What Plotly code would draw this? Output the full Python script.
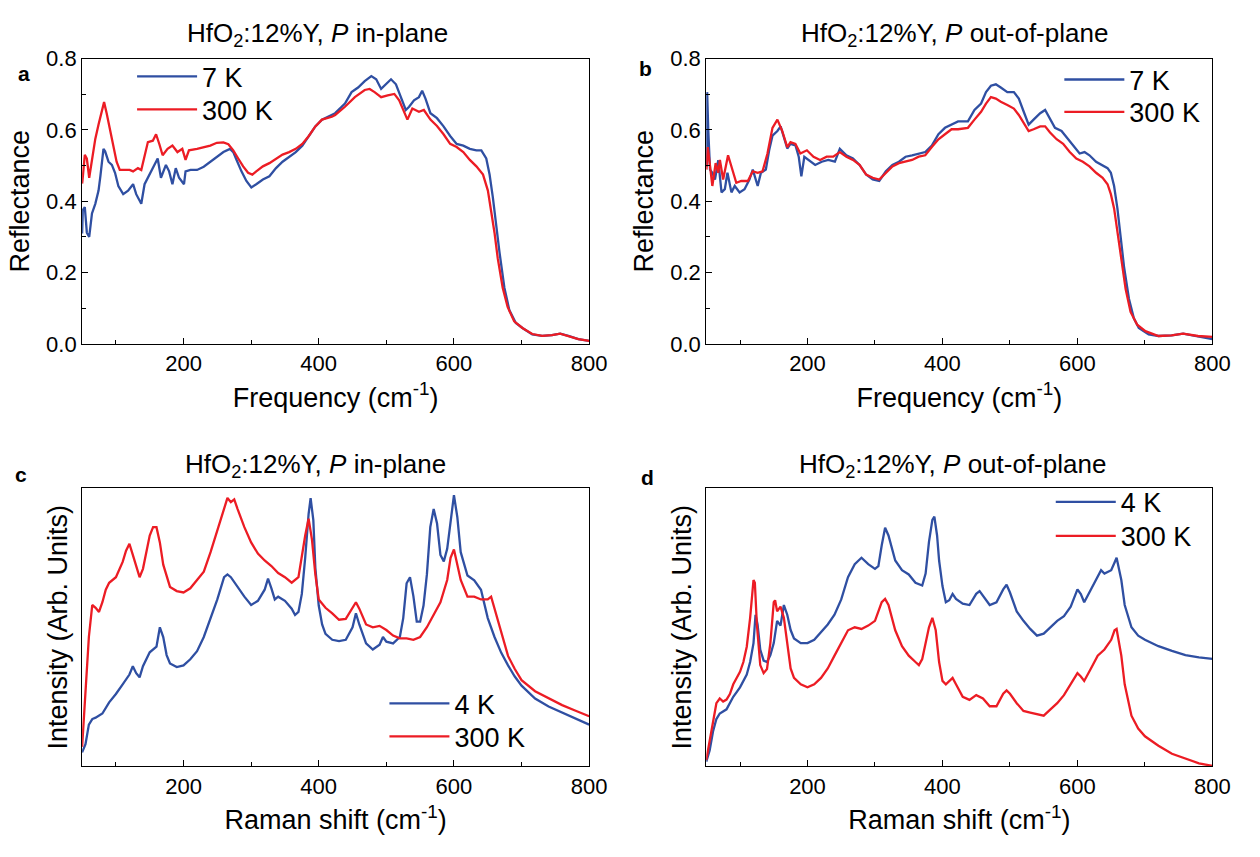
import plotly.graph_objects as go

# ---------------- Panel a : reflectance, P in-plane ----------------
a_x_7K = [50, 51, 54, 57, 60.5, 64.6, 69.5, 74.3, 77, 81.6, 84, 89, 94, 98.7, 103.6, 110.8, 118, 125.4, 130,
          137.5, 142.4, 149.7, 157, 161.8, 166.6, 174, 178.7, 183.6, 188.5, 193.4, 200.7, 203, 210.3, 220,
          229.9, 239.6, 249.3, 259, 268.7, 273.6, 278.5, 285.7, 293, 300.3, 307.6, 317.4, 327, 336.8, 346.5,
          356.2, 366, 375.7, 385.3, 395, 404.8, 419.4, 424.3, 438.8, 448.6, 458.2, 468, 477.8, 485, 492.3,
          499.6, 506.9, 514.2, 521.5, 528.8, 533.7, 540.9, 548.2, 553, 557.9, 565.2, 574.9, 584.6, 594.4,
          604, 613.8, 623.5, 633.2, 640.5, 647.8, 652.7, 657.5, 662.3, 667.3, 674.6, 681.9, 691.5, 701.3,
          715.8, 730.4, 745, 757.1, 769.3, 784, 800]
a_y_7K = [0.31, 0.375, 0.384, 0.312, 0.30, 0.366, 0.393, 0.43, 0.47, 0.547, 0.54, 0.511, 0.502, 0.48, 0.443,
          0.42, 0.43, 0.448, 0.42, 0.393, 0.448, 0.475, 0.50, 0.52, 0.466, 0.502, 0.484, 0.448, 0.493, 0.466,
          0.448, 0.484, 0.488, 0.488, 0.497, 0.511, 0.525, 0.538, 0.547, 0.538, 0.516, 0.484, 0.457, 0.439,
          0.448, 0.461, 0.47, 0.493, 0.511, 0.525, 0.538, 0.556, 0.583, 0.61, 0.629, 0.641, 0.647, 0.674,
          0.706, 0.719, 0.737, 0.751, 0.742, 0.715, 0.728, 0.742, 0.728, 0.692, 0.656, 0.665, 0.683, 0.692,
          0.71, 0.688, 0.647, 0.633, 0.61, 0.583, 0.561, 0.556, 0.547, 0.543, 0.543, 0.52, 0.475, 0.412,
          0.33, 0.258, 0.158, 0.095, 0.059, 0.045, 0.027, 0.023, 0.025, 0.029, 0.023, 0.014, 0.009]
a_x_300K = [50, 50.5, 54, 57, 60.5, 64.6, 69.5, 74.3, 79, 82.5, 86.3, 91.2, 96, 101, 105.7, 113, 120.3, 125.4,
            132.6, 137.5, 142.4, 147.3, 154.6, 159.4, 164.3, 169.1, 176.4, 183.6, 191, 198.2, 203, 208, 220,
            230, 239.6, 249.3, 259, 266.3, 273.6, 280.9, 288.2, 295.5, 301.8, 307.6, 317.4, 327, 336.8, 346.5,
            356.2, 366, 375.7, 385.3, 395, 404.8, 419.4, 424.3, 438.8, 453.4, 468, 475.3, 482.6, 492.3, 502,
            511.8, 519, 526.3, 531.2, 538.5, 548.2, 555.5, 565.2, 574.9, 584.6, 594.4, 604, 613.8, 623.5,
            633.2, 643, 650.2, 655.1, 660, 664.8, 672.1, 679.4, 689.1, 701.3, 715.8, 730.4, 745, 757.1, 769.3,
            784, 800]
a_y_300K = [0.45, 0.457, 0.53, 0.52, 0.466, 0.52, 0.575, 0.615, 0.647, 0.678, 0.647, 0.602, 0.556, 0.511,
            0.488, 0.488, 0.488, 0.484, 0.493, 0.488, 0.529, 0.566, 0.57, 0.588, 0.56, 0.529, 0.547, 0.556,
            0.538, 0.547, 0.516, 0.543, 0.547, 0.552, 0.556, 0.564, 0.565, 0.56, 0.543, 0.52, 0.498, 0.48,
            0.475, 0.484, 0.498, 0.507, 0.52, 0.531, 0.538, 0.547, 0.561, 0.583, 0.61, 0.629, 0.637, 0.642,
            0.665, 0.692, 0.712, 0.715, 0.706, 0.692, 0.697, 0.701, 0.683, 0.651, 0.629, 0.66, 0.651, 0.656,
            0.629, 0.611, 0.588, 0.561, 0.552, 0.538, 0.516, 0.498, 0.475, 0.43, 0.376, 0.312, 0.24, 0.158,
            0.104, 0.0635, 0.045, 0.028, 0.023, 0.025, 0.029, 0.023, 0.014, 0.009]

# ---------------- Panel b : reflectance, P out-of-plane ----------------
b_x_7K = [50.3, 51.3, 53, 55.6, 59, 62.9, 67.8, 72.6, 77.5, 81.4, 87.3, 92.2, 99.4, 106.7, 114, 118.9, 126.2,
          131, 138.3, 143.2, 148.1, 155.4, 160.2, 165.1, 170, 174.8, 182.1, 187, 190.9, 195.3, 201.6, 211.4,
          221.1, 230.8, 240.6, 247.9, 257.6, 267.4, 277.1, 286.9, 296.6, 306.3, 316.1, 325.8, 335.5, 345.3,
          355, 364.8, 374.5, 384.2, 394, 403.7, 413.5, 423.1, 437.7, 447.4, 457.2, 464.5, 471.8, 479.1,
          486.4, 496.1, 505.8, 513.1, 520.4, 527.7, 535, 544.8, 552.1, 559.4, 566.7, 576.4, 586.2, 595.9,
          603.2, 610.5, 617.8, 627.6, 637.3, 644.6, 649.5, 654.3, 659.2, 664.1, 669, 676.3, 683.6, 690.9,
          705.5, 720.1, 739.6, 756.6, 773.7, 800]
b_y_7K = [0.497, 0.706, 0.597, 0.489, 0.48, 0.461, 0.515, 0.425, 0.434, 0.48, 0.425, 0.443, 0.425, 0.434, 0.461,
          0.489, 0.443, 0.48, 0.489, 0.543, 0.584, 0.597, 0.61, 0.579, 0.548, 0.561, 0.557, 0.525, 0.47,
          0.525, 0.516, 0.502, 0.511, 0.516, 0.511, 0.547, 0.529, 0.52, 0.502, 0.475, 0.461, 0.457, 0.484,
          0.502, 0.511, 0.525, 0.529, 0.534, 0.538, 0.556, 0.588, 0.606, 0.615, 0.624, 0.624, 0.656, 0.674,
          0.706, 0.724, 0.728, 0.719, 0.706, 0.706, 0.688, 0.651, 0.615, 0.629, 0.647, 0.656, 0.629, 0.606,
          0.597, 0.574, 0.552, 0.534, 0.538, 0.529, 0.511, 0.502, 0.493, 0.48, 0.443, 0.38, 0.299, 0.217,
          0.127, 0.072, 0.045, 0.027, 0.0225, 0.024, 0.029, 0.0225, 0.0136]
b_x_300K = [50.3, 52.2, 55.1, 59, 63.9, 67.8, 70.2, 75, 82.3, 89.6, 94.5, 101.8, 111.6, 118.9, 126.2, 133.4,
            140.7, 148.1, 155.4, 162.6, 170, 174.8, 182.1, 189.4, 199.1, 208.9, 218.6, 228.4, 238.1, 247.9,
            257.6, 267.4, 277.1, 286.9, 296.6, 306.3, 316.1, 325.8, 335.5, 345.3, 355, 364.8, 374.5, 384.2,
            394, 403.7, 413.5, 423.1, 437.7, 447.4, 457.2, 464.5, 471.8, 479.1, 486.4, 496.1, 505.8, 513.1,
            520.4, 527.7, 535, 544.8, 552.1, 559.4, 569.1, 578.8, 588.6, 598.3, 608, 617.8, 627.6, 637.3,
            644.6, 649.5, 654.3, 659.2, 664.1, 671.4, 678.7, 688.5, 700.7, 720.1, 739.6, 756.6, 778.6, 800]
b_y_300K = [0.489, 0.552, 0.507, 0.443, 0.507, 0.48, 0.516, 0.461, 0.529, 0.48, 0.452, 0.457, 0.457, 0.484,
            0.48, 0.484, 0.534, 0.606, 0.629, 0.597, 0.552, 0.566, 0.561, 0.534, 0.543, 0.525, 0.516, 0.525,
            0.525, 0.538, 0.525, 0.516, 0.502, 0.475, 0.466, 0.461, 0.48, 0.498, 0.507, 0.511, 0.516, 0.525,
            0.529, 0.552, 0.574, 0.588, 0.602, 0.602, 0.606, 0.629, 0.651, 0.674, 0.692, 0.688, 0.679, 0.67,
            0.66, 0.642, 0.62, 0.597, 0.602, 0.61, 0.61, 0.593, 0.574, 0.561, 0.538, 0.52, 0.511, 0.498, 0.48,
            0.466, 0.448, 0.42, 0.38, 0.317, 0.244, 0.154, 0.09, 0.054, 0.036, 0.0225, 0.024, 0.029, 0.0225,
            0.02]

# ---------------- Panel c : Raman, P in-plane (arb. units) ----------------
c_x_4K = [50, 55, 60, 65, 70, 80, 90, 100, 110, 120, 125, 130, 135, 140, 150, 155, 160, 165, 170, 175, 180, 190,
          200, 210, 220, 230, 240, 250, 260, 265, 270, 280, 290, 300, 310, 320, 325, 330, 335, 340, 350, 360,
          365, 370, 375, 380, 385, 388, 392, 395, 400, 405, 410, 420, 430, 440, 450, 455, 460, 470, 480, 490,
          495, 500, 510, 520, 525, 530, 535, 540, 545, 550, 555, 560, 565, 570, 575, 580, 585, 590, 595, 600,
          605, 610, 620, 630, 640, 650, 660, 670, 680, 690, 700, 720, 740, 760, 780, 800]
c_y_4K = [0.05, 0.08, 0.15, 0.17, 0.175, 0.19, 0.23, 0.26, 0.295, 0.33, 0.36, 0.335, 0.32, 0.36, 0.41, 0.42,
          0.43, 0.50, 0.465, 0.40, 0.37, 0.357, 0.363, 0.385, 0.414, 0.465, 0.533, 0.60, 0.68, 0.69, 0.68,
          0.645, 0.61, 0.58, 0.595, 0.635, 0.675, 0.64, 0.60, 0.61, 0.595, 0.567, 0.544, 0.555, 0.62, 0.75,
          0.907, 0.964, 0.885, 0.714, 0.578, 0.51, 0.476, 0.455, 0.45, 0.455, 0.50, 0.55, 0.51, 0.442, 0.42,
          0.437, 0.465, 0.448, 0.442, 0.465, 0.533, 0.658, 0.68, 0.612, 0.52, 0.52, 0.578, 0.69, 0.86, 0.925,
          0.873, 0.76, 0.737, 0.782, 0.884, 0.975, 0.896, 0.77, 0.686, 0.669, 0.635, 0.533, 0.465, 0.408,
          0.363, 0.323, 0.29, 0.244, 0.215, 0.193, 0.172, 0.15]
c_x_300K = [50, 55, 60, 65, 70, 75, 80, 85, 90, 100, 110, 115, 120, 125, 130, 135, 140, 150, 155, 160, 165, 170,
            180, 190, 200, 210, 220, 230, 240, 250, 260, 265, 270, 275, 280, 290, 300, 310, 320, 330, 340, 350,
            360, 370, 380, 385, 390, 395, 400, 410, 420, 430, 440, 450, 455, 460, 470, 480, 490, 500, 510, 520,
            530, 540, 550, 560, 570, 580, 590, 595, 600, 605, 610, 620, 630, 640, 650, 655, 660, 670, 680, 690,
            700, 720, 740, 760, 780, 800]
c_y_300K = [0.07, 0.26, 0.465, 0.58, 0.57, 0.555, 0.59, 0.635, 0.66, 0.68, 0.735, 0.775, 0.80, 0.76, 0.72,
            0.68, 0.71, 0.83, 0.86, 0.86, 0.805, 0.725, 0.645, 0.63, 0.625, 0.64, 0.67, 0.70, 0.77, 0.85, 0.93,
            0.965, 0.95, 0.96, 0.925, 0.86, 0.805, 0.765, 0.74, 0.72, 0.695, 0.68, 0.66, 0.68, 0.83, 0.89,
            0.815, 0.69, 0.60, 0.57, 0.55, 0.527, 0.53, 0.57, 0.59, 0.567, 0.51, 0.50, 0.505, 0.49, 0.47, 0.46,
            0.46, 0.455, 0.465, 0.50, 0.545, 0.59, 0.67, 0.75, 0.78, 0.725, 0.67, 0.61, 0.61, 0.60, 0.60, 0.61,
            0.567, 0.476, 0.397, 0.35, 0.31, 0.27, 0.245, 0.22, 0.20, 0.18]

# ---------------- Panel d : Raman, P out-of-plane (arb. units) ----------------
d_x_4K = [50, 55, 60, 65, 70, 80, 90, 100, 110, 115, 120, 123, 126, 130, 135, 140, 145, 150, 155, 160, 165, 170,
          175, 180, 190, 200, 210, 220, 230, 240, 250, 260, 270, 280, 290, 300, 305, 310, 315, 320, 330, 340,
          350, 360, 370, 375, 380, 385, 388, 392, 395, 400, 405, 410, 415, 420, 430, 440, 450, 455, 460, 470,
          480, 490, 495, 500, 510, 520, 530, 540, 550, 560, 570, 580, 590, 600, 605, 610, 620, 630, 635, 640,
          650, 655, 658, 665, 670, 680, 690, 700, 720, 740, 760, 780, 800]
d_y_4K = [0.017, 0.057, 0.125, 0.17, 0.19, 0.205, 0.25, 0.284, 0.33, 0.375, 0.443, 0.545, 0.51, 0.42, 0.38,
          0.375, 0.40, 0.443, 0.523, 0.506, 0.58, 0.545, 0.49, 0.46, 0.443, 0.443, 0.455, 0.483, 0.51, 0.545,
          0.60, 0.68, 0.727, 0.75, 0.727, 0.71, 0.72, 0.795, 0.858, 0.83, 0.74, 0.705, 0.69, 0.66, 0.65, 0.693,
          0.807, 0.886, 0.898, 0.83, 0.74, 0.648, 0.59, 0.597, 0.62, 0.602, 0.585, 0.58, 0.62, 0.63, 0.614,
          0.58, 0.59, 0.636, 0.653, 0.625, 0.557, 0.523, 0.494, 0.47, 0.477, 0.50, 0.523, 0.54, 0.574, 0.636,
          0.619, 0.59, 0.636, 0.68, 0.705, 0.693, 0.705, 0.733, 0.75, 0.67, 0.58, 0.50, 0.47, 0.455, 0.432,
          0.415, 0.40, 0.392, 0.386]
d_x_300K = [50, 55, 60, 65, 70, 75, 80, 85, 90, 100, 105, 110, 115, 118, 120, 122, 125, 130, 135, 140, 145, 150,
            152, 155, 160, 165, 170, 175, 180, 190, 200, 210, 220, 230, 240, 250, 260, 270, 280, 290, 300, 310,
            315, 320, 330, 340, 350, 360, 365, 370, 380, 385, 390, 395, 400, 405, 410, 415, 420, 430, 440, 450,
            460, 470, 480, 490, 495, 500, 510, 520, 530, 540, 550, 560, 570, 580, 590, 600, 605, 610, 620, 630,
            640, 650, 655, 658, 665, 670, 680, 690, 700, 720, 740, 760, 780, 800]
d_y_300K = [0.023, 0.09, 0.17, 0.227, 0.244, 0.233, 0.24, 0.26, 0.295, 0.34, 0.375, 0.43, 0.534, 0.625, 0.67,
            0.66, 0.51, 0.364, 0.335, 0.35, 0.443, 0.59, 0.597, 0.557, 0.574, 0.534, 0.443, 0.352, 0.318, 0.295,
            0.284, 0.295, 0.318, 0.352, 0.398, 0.443, 0.489, 0.50, 0.494, 0.506, 0.523, 0.59, 0.602, 0.58,
            0.489, 0.432, 0.398, 0.375, 0.364, 0.386, 0.50, 0.534, 0.489, 0.375, 0.307, 0.295, 0.307, 0.318,
            0.295, 0.25, 0.239, 0.256, 0.244, 0.216, 0.216, 0.261, 0.273, 0.261, 0.227, 0.199, 0.193, 0.1875,
            0.182, 0.2045, 0.227, 0.256, 0.295, 0.335, 0.323, 0.307, 0.352, 0.398, 0.42, 0.455, 0.489, 0.494,
            0.398, 0.295, 0.182, 0.136, 0.108, 0.074, 0.045, 0.028, 0.011, 0.002]

x_tickvals = [200, 400, 600, 800]
x_minor = [100, 300, 500, 700]
y_tickvals_refl = [0.0, 0.2, 0.4, 0.6, 0.8]
y_ticktext_refl = ["0.0", "0.2", "0.4", "0.6", "0.8"]
y_minor_refl = [0.1, 0.3, 0.5, 0.7]

BLUE = "#2F4FA2"
RED = "#EC1C24"
FONT = "Liberation Sans, Arial, sans-serif"

W, H = 1260, 857


def px(v):
    return v / W


def py(v):
    return 1 - v / H


fig = go.Figure()

# (xaxis, yaxis, x_low, y_low, name_low, x_300, y_300, legend_low, legend_300)
panels = [
    ("x", "y", a_x_7K, a_y_7K, "7 K", a_x_300K, a_y_300K, "legend", "legend2"),
    ("x2", "y2", b_x_7K, b_y_7K, "7 K", b_x_300K, b_y_300K, "legend3", "legend4"),
    ("x3", "y3", c_x_4K, c_y_4K, "4 K", c_x_300K, c_y_300K, "legend5", "legend6"),
    ("x4", "y4", d_x_4K, d_y_4K, "4 K", d_x_300K, d_y_300K, "legend7", "legend8"),
]
for xa, ya, xb, yb, nb, xr, yr, lgb, lgr in panels:
    fig.add_trace(go.Scatter(x=xb, y=yb, name=nb, mode="lines", line=dict(color=BLUE, width=2.3),
                             xaxis=xa, yaxis=ya, legend=lgb))
    fig.add_trace(go.Scatter(x=xr, y=yr, name="300 K", mode="lines", line=dict(color=RED, width=2.3),
                             xaxis=xa, yaxis=ya, legend=lgr))

dom_left = [px(83.3), px(597.7)]
dom_right = [px(716.5), px(1230)]
dom_top = [py(342), py(48)]
dom_bot = [py(777), py(490.5)]

TICKFONT = dict(family=FONT, size=22, color="black")
xcommon = dict(range=[50, 800], tickvals=x_tickvals, ticks="inside", ticklen=6, tickwidth=1, tickcolor="black",
               showline=True, linecolor="black", linewidth=1, mirror=True, showgrid=False, zeroline=False,
               tickfont=TICKFONT,
               minor=dict(tickvals=x_minor, ticks="inside", ticklen=4, tickcolor="black"))
ycommon_refl = dict(range=[0, 0.8], tickvals=y_tickvals_refl, ticktext=y_ticktext_refl, ticks="inside", ticklen=6,
                    tickwidth=1, tickcolor="black", showline=True, linecolor="black", linewidth=1, mirror=True,
                    showgrid=False, zeroline=False, tickfont=TICKFONT,
                    minor=dict(tickvals=y_minor_refl, ticks="inside", ticklen=4, tickcolor="black"))
ycommon_raman = dict(range=[0, 1], showticklabels=False, ticks="", showline=True, linecolor="black", linewidth=1,
                     mirror=True, showgrid=False, zeroline=False)

TFONT = dict(family=FONT, size=27, color="black")
freq_title = dict(text="Frequency (cm<sup>-1</sup>)", font=TFONT, standoff=12)
raman_title = dict(text="Raman shift (cm<sup>-1</sup>)", font=TFONT, standoff=12)
refl_title = dict(text="Reflectance", font=TFONT, standoff=8)
int_title = dict(text="Intensity (Arb. Units)", font=TFONT, standoff=5)

fig.update_layout(
    width=W, height=H, margin=dict(l=0, r=0, t=0, b=0),
    paper_bgcolor="white", plot_bgcolor="white",
    font=dict(family=FONT, color="black"),
    xaxis=dict(domain=dom_left, anchor="y", title=freq_title, **xcommon),
    yaxis=dict(domain=dom_top, anchor="x", title=refl_title, **ycommon_refl),
    xaxis2=dict(domain=dom_right, anchor="y2", title=freq_title, **xcommon),
    yaxis2=dict(domain=dom_top, anchor="x2", title=refl_title, **ycommon_refl),
    xaxis3=dict(domain=dom_left, anchor="y3", title=raman_title, **xcommon),
    yaxis3=dict(domain=dom_bot, anchor="x3", title=int_title, **ycommon_raman),
    xaxis4=dict(domain=dom_right, anchor="y4", title=raman_title, **xcommon),
    yaxis4=dict(domain=dom_bot, anchor="x4", title=int_title, **ycommon_raman),
    showlegend=True,
)

leg_common = dict(font=dict(family=FONT, size=27, color="black"), bgcolor="rgba(0,0,0,0)", borderwidth=0,
                  itemwidth=60, xanchor="left", yanchor="middle")
# legend line start (x) and centre (y) in picture pixels
leg_pos = {
    "legend": (138, 66.7), "legend2": (138, 100.7),
    "legend3": (1078.7, 70), "legend4": (1078.7, 103.3),
    "legend5": (394, 712.7), "legend6": (394, 746.7),
    "legend7": (1070, 505), "legend8": (1070, 540),
}
fig.update_layout(**{k: dict(x=px(x - 4), y=py(y), **leg_common) for k, (x, y) in leg_pos.items()})

title_a = "HfO<sub>2</sub>:12%Y, <i>P</i> in-plane"
title_b = "HfO<sub>2</sub>:12%Y, <i>P</i> out-of-plane"
titles = [(title_a, 322, 23), (title_b, 968, 23), (title_a, 320, 467), (title_b, 966, 467)]
for t, x, y in titles:
    fig.add_annotation(text=t, x=px(x), y=py(y), xref="paper", yref="paper", showarrow=False,
                       xanchor="center", yanchor="middle", font=dict(family=FONT, size=26, color="black"))

labels = [("a", 24, 63), ("b", 655, 58), ("c", 21, 476), ("d", 657, 479)]
for t, x, y in labels:
    fig.add_annotation(text="<b>%s</b>" % t, x=px(x), y=py(y), xref="paper", yref="paper", showarrow=False,
                       xanchor="center", yanchor="middle", font=dict(family=FONT, size=21, color="black"))

# the page's default body margin would shift the figure; remove it so the figure fills the window exactly
fig.write_html("out.html", config={"displayModeBar": False},
               post_script="document.body.style.margin='0';document.body.style.overflow='hidden';")
